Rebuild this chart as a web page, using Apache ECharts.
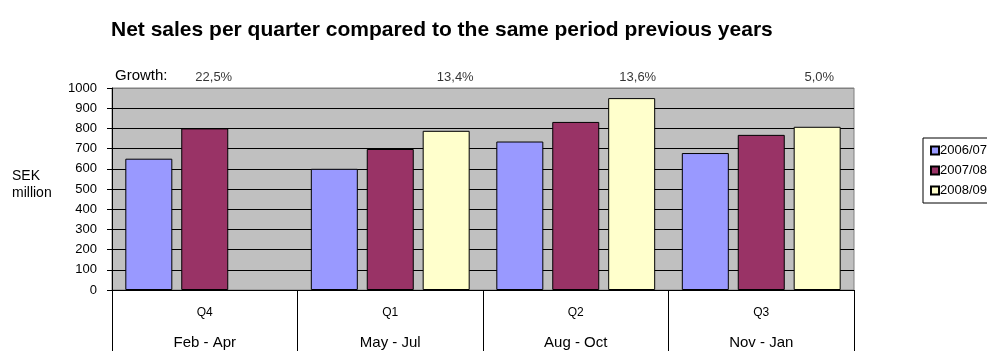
<!DOCTYPE html>
<html>
<head>
<meta charset="utf-8">
<script src="https://cdn.jsdelivr.net/npm/echarts@6/dist/echarts.min.js"></script>
<style>
html, body { margin: 0; padding: 0; background: #fff; }
#main { width: 987px; height: 351px; }
</style>
</head>
<body>
<div id="main"></div>
<script>
var quarters = ['Q4', 'Q1', 'Q2', 'Q3'];
var months = ['Feb - Apr', 'May - Jul', 'Aug - Oct', 'Nov - Jan'];
var seriesNames = ['2006/07', '2007/08', '2008/09'];
var sales0607 = [650, 600, 735, 678];
var sales0708 = [800, 698, 832, 768];
var sales0809 = [null, 788, 950, 808];
var growth = ['22,5%', '13,4%', '13,6%', '5,0%'];
// horizontal shift of each growth label from its category centre
var growthShift = [9, 65, 62, 58];

var font = 'Liberation Sans, Arial, sans-serif';
var colors = ['#9999FF', '#993366', '#FFFFCC'];

function barSeries(name, data, color) {
    return {
        name: name,
        type: 'bar',
        data: data,
        barWidth: 47,
        barGap: '19%',
        itemStyle: { color: color, borderColor: '#000', borderWidth: 1 },
        silent: true
    };
}

var splitColors = [];
for (var i = 0; i <= 10; i++) splitColors.push(i === 10 ? '#808080' : '#000');

var option = {
    backgroundColor: '#fff',
    animation: false,
    textStyle: { fontFamily: font, color: '#000' },
    title: {
        text: 'Net sales per quarter compared to the same period previous years',
        left: 106,
        top: 15,
        textStyle: { fontFamily: font, fontSize: 21, fontWeight: 'bold', color: '#000' }
    },
    legend: {
        orient: 'vertical',
        left: 923,
        top: 138,
        data: seriesNames,
        icon: 'rect',
        itemWidth: 8,
        itemHeight: 8,
        itemGap: 7,
        padding: [6, 30, 6, 7],
        backgroundColor: '#fff',
        borderColor: '#000',
        borderWidth: 1,
        borderRadius: 0,
        textStyle: { fontFamily: font, fontSize: 13, color: '#000', padding: [0, 0, 0, -4] }
    },
    grid: {
        left: 112,
        right: 133,
        top: 88,
        bottom: 61,
        show: true,
        backgroundColor: '#C0C0C0',
        borderColor: '#808080',
        borderWidth: 1
    },
    xAxis: {
        type: 'category',
        data: quarters,
        axisLine: { lineStyle: { color: '#000' } },
        axisTick: { show: true, length: 61, interval: 0, lineStyle: { color: '#000' } },
        axisLabel: {
            interval: 0,
            margin: 13,
            formatter: function (v, idx) {
                return '{q|' + v + '}\n{m|' + months[idx] + '}';
            },
            rich: {
                q: { fontFamily: font, fontSize: 12, lineHeight: 20, color: '#000' },
                m: { fontFamily: font, fontSize: 15, lineHeight: 40, color: '#000' }
            }
        }
    },
    yAxis: {
        type: 'value',
        min: 0,
        max: 1000,
        interval: 100,
        axisLine: { show: true, lineStyle: { color: '#000' } },
        axisTick: { show: true, length: 5, lineStyle: { color: '#000' } },
        axisLabel: {
            fontFamily: font, fontSize: 13, color: '#000', margin: 15,
            formatter: function (v) { return String(v); }
        },
        splitLine: { show: true, lineStyle: { color: splitColors, width: 1 } }
    },
    graphic: [
        {
            type: 'text',
            left: 115,
            top: 68,
            style: { text: 'Growth:', font: '15px ' + font, fill: '#000' }
        },
        {
            type: 'text',
            left: 12,
            top: 168,
            style: { text: 'SEK\nmillion', font: '14px ' + font, fill: '#000', lineHeight: 17 }
        }
    ],
    series: [
        barSeries(seriesNames[0], sales0607, colors[0]),
        barSeries(seriesNames[1], sales0708, colors[1]),
        barSeries(seriesNames[2], sales0809, colors[2]),
        {
            type: 'scatter',
            symbolSize: 0,
            silent: true,
            data: growth.map(function (g, i) {
                return {
                    value: 1000,
                    label: {
                        show: true,
                        position: 'top',
                        distance: 4,
                        offset: [growthShift[i], 0],
                        formatter: g,
                        fontFamily: font,
                        fontSize: 13,
                        color: '#000'
                    }
                };
            })
        }
    ]
};

echarts.init(document.getElementById('main'), null, { renderer: 'canvas' }).setOption(option);
</script>
</body>
</html>
